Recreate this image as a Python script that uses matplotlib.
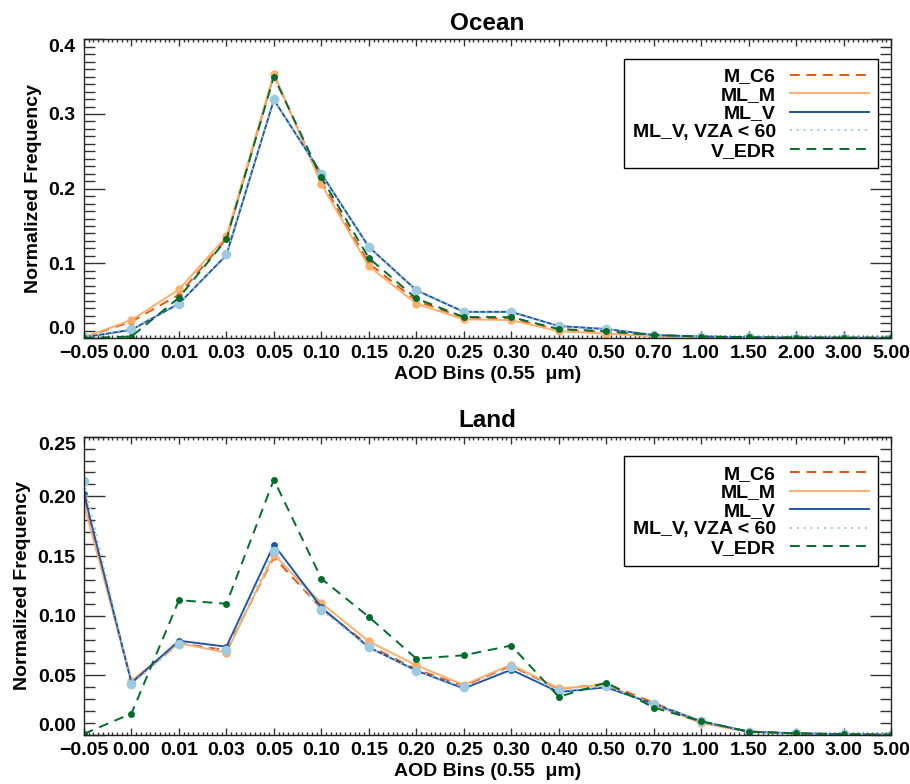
import matplotlib
matplotlib.use("Agg")
import matplotlib.pyplot as plt
from matplotlib.ticker import FixedLocator, MultipleLocator
import numpy as np

plt.rcParams['font.family'] = ['Liberation Sans', 'DejaVu Sans']
plt.rcParams['font.weight'] = 'bold'
plt.rcParams['axes.labelweight'] = 'bold'
plt.rcParams['axes.titleweight'] = 'bold'

bins = ["\u22120.05", "0.00", "0.01", "0.03", "0.05", "0.10", "0.15", "0.20", "0.25",
        "0.30", "0.40", "0.50", "0.70", "1.00", "1.50", "2.00", "3.00", "5.00"]

series_names = ["M_C6", "ML_M", "ML_V", "ML_V, VZA < 60", "V_EDR"]

# Ocean
ocean_m_c6 = [0.001, 0.022, 0.058, 0.133, 0.352, 0.210, 0.100, 0.050, 0.027, 0.026, 0.011, 0.008,
              0.003, 0.001, 0.0006, 0.0004, 0.0003, 0.0002]
ocean_ml_m = [0.001, 0.024, 0.065, 0.136, 0.354, 0.206, 0.096, 0.046, 0.025, 0.024, 0.009, 0.006,
              0.002, 0.001, 0.0005, 0.0003, 0.0002, 0.0001]
ocean_ml_v = [0.001, 0.011, 0.046, 0.111, 0.319, 0.220, 0.122, 0.064, 0.035, 0.035, 0.016, 0.012,
              0.004, 0.002, 0.001, 0.0006, 0.0004, 0.0003]
ocean_ml_v_vza = [0.001, 0.012, 0.046, 0.112, 0.320, 0.219, 0.122, 0.064, 0.035, 0.035, 0.016, 0.012,
                  0.004, 0.002, 0.001, 0.0006, 0.0004, 0.0003]
ocean_v_edr = [0.000, 0.002, 0.054, 0.132, 0.350, 0.215, 0.107, 0.053, 0.028, 0.028, 0.012, 0.009,
               0.004, 0.002, 0.001, 0.0006, 0.0004, 0.0003]

# Land
land_m_c6 = [0.197, 0.044, 0.077, 0.071, 0.149, 0.106, 0.075, 0.055, 0.041, 0.058, 0.0385, 0.043,
             0.027, 0.011, 0.003, 0.0014, 0.0006, 0.0003]
land_ml_m = [0.193, 0.0455, 0.077, 0.069, 0.151, 0.1106, 0.0785, 0.0584, 0.042, 0.059, 0.039, 0.042,
             0.0254, 0.010, 0.0025, 0.0012, 0.0005, 0.0002]
land_ml_v = [0.202, 0.0436, 0.079, 0.074, 0.1595, 0.107, 0.0735, 0.054, 0.039, 0.0547, 0.036, 0.040,
             0.026, 0.0115, 0.0028, 0.0014, 0.0006, 0.0003]
land_ml_v_vza = [0.2126, 0.0427, 0.076, 0.071, 0.154, 0.1045, 0.0735, 0.054, 0.040, 0.057, 0.0366, 0.041,
                 0.026, 0.0115, 0.0028, 0.0014, 0.0006, 0.0003]
land_v_edr = [0.001, 0.018, 0.113, 0.110, 0.214, 0.131, 0.099, 0.064, 0.0668, 0.075, 0.032, 0.0439,
              0.023, 0.0115, 0.0028, 0.0014, 0.0006, 0.0003]

colors = ["#e6550d", "#fdae6b", "#1f56a5", "#9ecae1", "#006d2c"]
styles = [(0, (5, 3.5)), "-", "-", (0, (1, 2.5)), (0, (5, 3.5))]
msizes = [4.5, 6, 5, 7, 5]

W, H = 910, 784
fig = plt.figure(figsize=(W / 100, H / 100), dpi=100)
ax1 = fig.add_axes([84 / W, (H - 338) / H, 807 / W, (338 - 39.3) / H])
ax2 = fig.add_axes([84 / W, (H - 735) / H, 807 / W, (735 - 436.7) / H])

x = np.arange(len(bins))


def draw(ax, data, title, ymax, ymajor, fmt):
    for vals, name, c, ls, ms in zip(data, series_names, colors, styles, msizes):
        ax.plot(x, vals, color=c, linestyle=ls, linewidth=1.4, label=name)
        ax.plot(x, vals, linestyle="none", marker="o", markersize=ms, color=c,
                markeredgewidth=0)
    ax.set_xlim(0, len(bins) - 1)
    ax.set_ylim(0, ymax)
    ax.xaxis.set_major_locator(FixedLocator(x))
    ax.set_xticklabels(bins)
    ax.xaxis.set_minor_locator(MultipleLocator(0.1))
    yt = np.round(np.arange(0, ymax + 1e-9, ymajor), 4)
    ax.yaxis.set_major_locator(FixedLocator(yt))
    ax.set_yticklabels([fmt.format(v) for v in yt])
    ax.yaxis.set_minor_locator(MultipleLocator(0.01))
    ax.tick_params(axis="both", which="both", direction="in", top=True, right=True,
                   labelsize=14, width=1, color="#333333")
    ax.tick_params(axis="y", which="major", length=15, pad=6)
    ax.tick_params(axis="y", which="minor", length=8)
    ax.tick_params(axis="x", which="major", length=5, pad=5)
    ax.tick_params(axis="x", which="minor", length=2.5)
    for sp in ax.spines.values():
        sp.set_linewidth(1.0)
        sp.set_color("#222222")
    ticks = ax.yaxis.get_major_ticks()
    ticks[0].label1.set_verticalalignment("bottom")
    ticks[-1].label1.set_verticalalignment("top")
    ax.set_title(title, fontsize=17.5, pad=7)
    ax.set_xlabel("AOD Bins (0.55  \u03bcm)", fontsize=14, labelpad=3)
    ax.set_ylabel("Normalized Frequency", fontsize=14, labelpad=5)
    leg = ax.legend(loc="upper right", markerfirst=False, fontsize=14, frameon=True,
                    fancybox=False, edgecolor="black", framealpha=1,
                    handlelength=4.1, handletextpad=0.7, labelspacing=0.05,
                    borderpad=0.45, borderaxespad=0, bbox_to_anchor=(0.984, 0.934))
    leg.get_frame().set_linewidth(1.0)


draw(ax1, [ocean_m_c6, ocean_ml_m, ocean_ml_v, ocean_ml_v_vza, ocean_v_edr], "Ocean", 0.4, 0.1, "{:.1f}")
draw(ax2, [land_m_c6, land_ml_m, land_ml_v, land_ml_v_vza, land_v_edr], "Land", 0.25, 0.05, "{:.2f}")

fig.savefig("out.png", dpi=100)
